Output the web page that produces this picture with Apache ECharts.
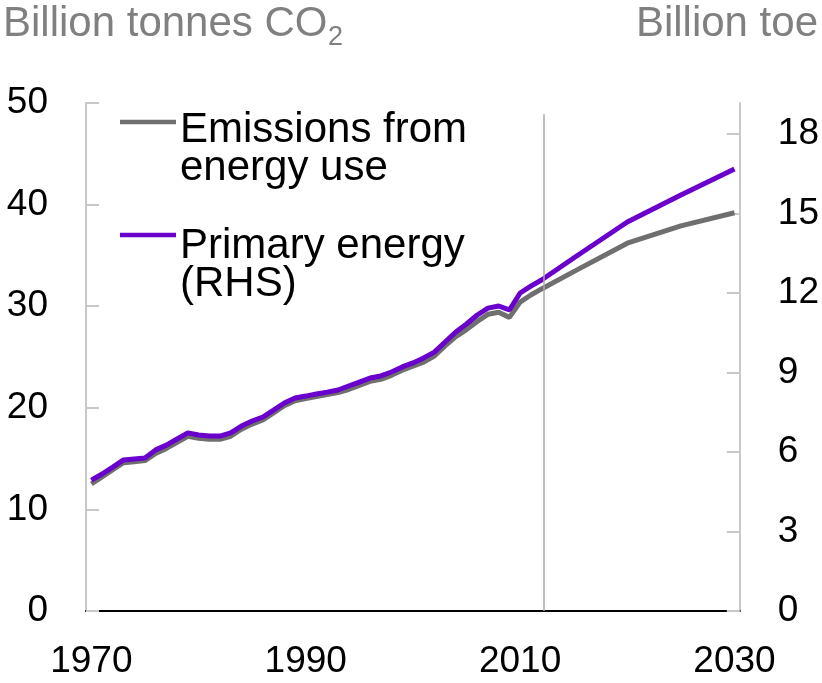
<!DOCTYPE html>
<html>
<head>
<meta charset="utf-8">
<script src="https://cdn.jsdelivr.net/npm/echarts@6/dist/echarts.min.js"></script>
<style>
  html, body { margin: 0; padding: 0; background: #fff; }
  #chart { width: 822px; height: 683px; }
</style>
</head>
<body>
<div id="chart"></div>
<script>
// years of the data points (history yearly, outlook every 5 years)
const years = [
  1970, 1971, 1972, 1973, 1974, 1975, 1976, 1977, 1978, 1979,
  1980, 1981, 1982, 1983, 1984, 1985, 1986, 1987, 1988, 1989,
  1990, 1991, 1992, 1993, 1994, 1995, 1996, 1997, 1998, 1999,
  2000, 2001, 2002, 2003, 2004, 2005, 2006, 2007, 2008, 2009,
  2010, 2011, 2012, 2015, 2020, 2025, 2030
];
// billion tonnes CO2 (LHS)
const emissions = [
  12.5, 13.2, 13.9, 14.6, 14.7, 14.8, 15.5, 16.0, 16.6, 17.2,
  17.0, 16.9, 16.9, 17.2, 17.9, 18.4, 18.8, 19.5, 20.2, 20.7,
  20.9, 21.1, 21.3, 21.5, 21.8, 22.2, 22.6, 22.8, 23.2, 23.7,
  24.1, 24.5, 25.1, 26.1, 27.0, 27.7, 28.5, 29.2, 29.4, 28.9,
  30.4, 31.1, 31.7, 33.4, 36.2, 37.9, 39.2
];
// billion toe (RHS)
const primaryEnergy = [
  4.94, 5.17, 5.43, 5.70, 5.74, 5.77, 6.08, 6.26, 6.49, 6.72,
  6.64, 6.60, 6.60, 6.72, 6.98, 7.17, 7.32, 7.58, 7.85, 8.04,
  8.11, 8.19, 8.26, 8.34, 8.49, 8.64, 8.79, 8.87, 9.02, 9.21,
  9.36, 9.55, 9.77, 10.15, 10.53, 10.83, 11.17, 11.43, 11.51, 11.36,
  12.00, 12.26, 12.49, 13.32, 14.68, 15.70, 16.68
];
const xTicks = [1970, 1990, 2010, 2030];
const rightTicks = [0, 3, 6, 9, 12, 15, 18];
const forecastStart = 2012.2;

const GREY = '#6f6f6f';
const PURPLE = '#6a00cc';
const AXIS_GREY = '#c8c8c8';
const FONT = '"Liberation Sans", Arial, sans-serif';

const chart = echarts.init(document.getElementById('chart'));

chart.setOption({
  animation: false,
  textStyle: { fontFamily: FONT },
  grid: { left: 86, right: 82, top: 103, bottom: 72, containLabel: false },
  xAxis: {
    type: 'value',
    min: 1969.5,
    max: 2030.5,
    splitLine: { show: false },
    axisLine: { show: true, lineStyle: { color: '#000', width: 2 } },
    axisTick: { show: false },
    axisLabel: {
      customValues: xTicks,
      formatter: (v) => String(v),
      fontSize: 37,
      color: '#000',
      margin: 32,
      fontFamily: FONT
    }
  },
  yAxis: [
    {
      type: 'value',
      min: 0,
      max: 50,
      interval: 10,
      position: 'left',
      splitLine: { show: false },
      axisLine: { show: true, lineStyle: { color: AXIS_GREY, width: 2 } },
      axisTick: { show: true, inside: true, length: 13, lineStyle: { color: AXIS_GREY, width: 2 } },
      axisLabel: { fontSize: 37, color: '#000', margin: 38, fontFamily: FONT }
    },
    {
      type: 'value',
      min: 0,
      max: 19.17,
      position: 'right',
      splitLine: { show: false },
      axisLine: { show: true, lineStyle: { color: AXIS_GREY, width: 2 } },
      axisTick: {
        show: true, inside: true, length: 13,
        customValues: rightTicks,
        lineStyle: { color: AXIS_GREY, width: 2 }
      },
      axisLabel: {
        customValues: rightTicks,
        fontSize: 37, color: '#000', margin: 38, fontFamily: FONT
      }
    }
  ],
  series: [
    {
      name: 'Emissions from energy use',
      type: 'line',
      yAxisIndex: 0,
      data: years.map((y, i) => [y, emissions[i]]),
      showSymbol: false,
      lineStyle: { color: GREY, width: 5 },
      itemStyle: { color: GREY },
      markLine: {
        silent: true,
        symbol: 'none',
        label: { show: false },
        lineStyle: { color: '#aaaaaa', width: 1.5, type: 'solid' },
        data: [[{ coord: [forecastStart, 0] }, { coord: [forecastStart, 48.9] }]]
      }
    },
    {
      name: 'Primary energy (RHS)',
      type: 'line',
      yAxisIndex: 1,
      data: years.map((y, i) => [y, primaryEnergy[i]]),
      showSymbol: false,
      lineStyle: { color: PURPLE, width: 5 },
      itemStyle: { color: PURPLE }
    }
  ],
  graphic: [
    // axis titles
    {
      type: 'text', left: 3, top: 3,
      style: { text: 'Billion tonnes CO', fontSize: 42, fill: '#808080', fontFamily: FONT }
    },
    {
      type: 'text', left: 328, top: 24,
      style: { text: '2', fontSize: 27, fill: '#808080', fontFamily: FONT }
    },
    {
      type: 'text', right: 4, top: 3,
      style: { text: 'Billion toe', fontSize: 42, fill: '#808080', fontFamily: FONT }
    },
    // legend
    {
      type: 'line', shape: { x1: 120, y1: 122, x2: 176, y2: 122 },
      style: { stroke: GREY, lineWidth: 4.5 }
    },
    {
      type: 'text', left: 180, top: 109,
      style: { text: 'Emissions from\nenergy use', fontSize: 42, lineHeight: 38, fill: '#000', fontFamily: FONT }
    },
    {
      type: 'line', shape: { x1: 120, y1: 235, x2: 176, y2: 235 },
      style: { stroke: PURPLE, lineWidth: 4.5 }
    },
    {
      type: 'text', left: 180, top: 225,
      style: { text: 'Primary energy\n(RHS)', fontSize: 42, lineHeight: 38, fill: '#000', fontFamily: FONT }
    }
  ]
});
</script>
</body>
</html>
